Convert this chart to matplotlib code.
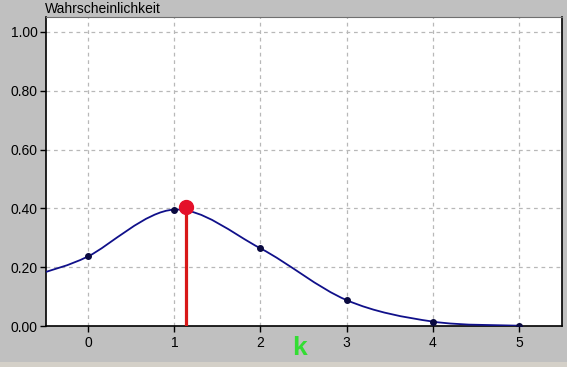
import matplotlib
matplotlib.use("Agg")
import matplotlib.pyplot as plt
from matplotlib.path import Path
from matplotlib.patches import PathPatch, Rectangle
import numpy as np

# data
k_values = [0, 1, 2, 3, 4, 5]
probabilities = [0.237, 0.396, 0.264, 0.088, 0.015, 0.001]
curve_start_x = -0.49
curve_start_y = 0.184
marker_x = 1.14
marker_y = 0.405
y_ticks = [0.0, 0.2, 0.4, 0.6, 0.8, 1.0]
y_tick_labels = ["0.00", "0.20", "0.40", "0.60", "0.80", "1.00"]
x_ticks = [0, 1, 2, 3, 4, 5]
title_text = "Wahrscheinlichkeit"
x_label = "k"

plt.rcParams['font.family'] = ['Liberation Sans', 'DejaVu Sans']

fig = plt.figure(figsize=(5.67, 3.67), dpi=100)
fig.patch.set_facecolor('#c0c0c0')
fig.add_artist(Rectangle((0, 0), 1, 5/367, transform=fig.transFigure,
                         facecolor='#d4d0c8', edgecolor='none'))
ax = fig.add_axes([46/567, 41/367, 516/567, 309/367])
ax.set_facecolor('white')
ax.set_xlim(-0.49, 5.5)
ax.set_ylim(0, 1.051)

# smooth curve through points (Catmull-Rom as cubic Bezier path)
px = [curve_start_x] + k_values
py = [curve_start_y] + probabilities
pts = np.column_stack([px, py])
verts = [tuple(pts[0])]
codes = [Path.MOVETO]
n = len(pts)
for i in range(n - 1):
    p0 = pts[i - 1] if i > 0 else pts[i]
    p1 = pts[i]
    p2 = pts[i + 1]
    p3 = pts[i + 2] if i + 2 < n else pts[i + 1]
    c1 = p1 + (p2 - p0) / 6.0
    c2 = p2 - (p3 - p1) / 6.0
    verts += [tuple(c1), tuple(c2), tuple(p2)]
    codes += [Path.CURVE4, Path.CURVE4, Path.CURVE4]
ax.add_patch(PathPatch(Path(verts, codes), facecolor='none',
                       edgecolor='#10108a', lw=1.3, zorder=3))

ax.plot(k_values, probabilities, 'o', color='#0a0a40', ms=4, zorder=4)
ax.vlines(marker_x, 0, marker_y, color='#d81818', lw=2.3, zorder=5)
ax.plot([marker_x], [marker_y], 'o', color='#e4102a', ms=10, zorder=6)

ax.set_xticks(x_ticks)
ax.set_yticks(y_ticks)
ax.set_yticklabels(y_tick_labels)
ax.grid(True, color='#b8b8b8', linestyle=(0, (3, 3)), lw=0.9)
ax.set_axisbelow(True)
ax.tick_params(axis='both', direction='out', length=4, width=1,
               labelsize=10, colors='black', pad=2)
ax.tick_params(axis='x', pad=3)
for s in ax.spines.values():
    s.set_color('black')
    s.set_linewidth(1.2)
ax.spines['top'].set_color('#707070')
ax.spines['top'].set_linewidth(0.8)

fig.text(300/567, 1 - 348/367, x_label, color='#33dd33', fontsize=19,
         fontweight='bold', ha='center', va='center')
fig.text(45/567, 1 - 9/367, title_text, fontsize=10, va='center', ha='left')

fig.savefig('out.png', dpi=100, facecolor=fig.get_facecolor())
